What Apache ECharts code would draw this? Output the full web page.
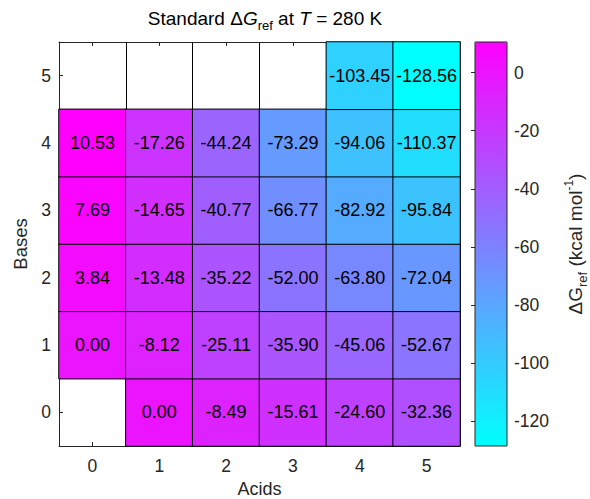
<!DOCTYPE html>
<html>
<head>
<meta charset="utf-8">
<script src="https://cdn.jsdelivr.net/npm/echarts@6/dist/echarts.min.js"></script>
<style>
html,body{margin:0;padding:0;background:#fff;}
#chart{width:590px;height:499px;}
</style>
</head>
<body>
<div id="chart"></div>
<script>
var acids = ['0','1','2','3','4','5'];
var bases = ['0','1','2','3','4','5'];
// values[baseIndex][acidIndex]; null = no cell
var base0 = [null, 0.00, -8.49, -15.61, -24.60, -32.36];
var base1 = [0.00, -8.12, -25.11, -35.90, -45.06, -52.67];
var base2 = [3.84, -13.48, -35.22, -52.00, -63.80, -72.04];
var base3 = [7.69, -14.65, -40.77, -66.77, -82.92, -95.84];
var base4 = [10.53, -17.26, -44.24, -73.29, -94.06, -110.37];
var base5 = [null, null, null, null, -103.45, -128.56];
var colorbarTicks = [0, -20, -40, -60, -80, -100, -120];
var cMin = -128.56, cMax = 10.53;

var rows = [base0, base1, base2, base3, base4, base5];
var data = [];
rows.forEach(function (row, b) {
  row.forEach(function (v, a) {
    if (v !== null) data.push([a, b, v]);
  });
});

var FONT = "'Liberation Sans', Arial, Helvetica, sans-serif";
var INK = '#262626';
var chart = echarts.init(document.getElementById('chart'), null, {renderer: 'svg'});

var axisCommon = {
  axisLine: {show: true, lineStyle: {color: INK, width: 1}},
  axisTick: {show: true, inside: true, length: 4, alignWithLabel: true, lineStyle: {color: INK}},
  splitLine: {show: true, lineStyle: {color: '#000', width: 1}}
};

chart.setOption({
  animation: false,
  textStyle: {fontFamily: FONT},
  title: {
    text: '{a|Standard Δ}{i|G}{s|ref}{a| at }{i|T}{a| = 280 K}',
    left: 260,
    top: 0,
    textAlign: 'center',
    textStyle: {
      fontWeight: 'normal',
      rich: {
        a: {fontSize: 19, fontFamily: FONT, fontWeight: 'normal', color: '#000', lineHeight: 26},
        i: {fontSize: 19, fontFamily: FONT, fontWeight: 'normal', fontStyle: 'italic', color: '#000', lineHeight: 26},
        s: {fontSize: 13, fontFamily: FONT, fontWeight: 'normal', color: '#000', lineHeight: 14, padding: [14, 0, 0, 0]}
      }
    }
  },
  grid: [
    {left: 59, top: 42, width: 401, height: 404, containLabel: false, outerBoundsMode: 'none'},
    {left: 475, top: 42, width: 32, height: 404, containLabel: false, outerBoundsMode: 'none', show: true, z: 10,
     backgroundColor: 'transparent', borderColor: INK, borderWidth: 1}
  ],
  xAxis: [
    Object.assign({}, axisCommon, {
      type: 'category', data: acids, gridIndex: 0, position: 'bottom',
      axisLabel: {fontSize: 17.5, color: INK, margin: 11, fontFamily: FONT},
      name: 'Acids', nameLocation: 'middle', nameGap: 33,
      nameTextStyle: {fontSize: 18, color: INK, fontFamily: FONT}
    }),
    Object.assign({}, axisCommon, {
      type: 'category', data: acids, gridIndex: 0, position: 'top',
      axisLabel: {show: false}
    }),
    {type: 'value', gridIndex: 1, show: false, min: 0, max: 1}
  ],
  yAxis: [
    Object.assign({}, axisCommon, {
      type: 'category', data: bases, gridIndex: 0, position: 'left',
      axisLabel: {fontSize: 17.5, color: INK, margin: 8, fontFamily: FONT},
      name: 'Bases', nameLocation: 'middle', nameGap: 22, nameRotate: 90,
      nameTextStyle: {fontSize: 18.5, color: INK, fontFamily: FONT}
    }),
    Object.assign({}, axisCommon, {
      type: 'category', data: bases, gridIndex: 0, position: 'right',
      axisLabel: {show: false}
    }),
    {
      type: 'value', gridIndex: 1, position: 'right', min: cMin, max: cMax, z: 10,
      axisLine: {show: false},
      splitLine: {show: false},
      axisTick: {show: true, inside: true, length: 4, lineStyle: {color: INK}, customValues: colorbarTicks},
      axisLabel: {fontSize: 17.5, color: INK, margin: 7, fontFamily: FONT, customValues: colorbarTicks},
      name: '{a|Δ}{a|G}{s|ref}{a| (kcal mol}{p|-1}{a|)}',
      nameLocation: 'middle', nameRotate: 90, nameGap: 55,
      nameTextStyle: {
        rich: {
          a: {fontSize: 19, fontFamily: FONT, color: INK, lineHeight: 26},
          s: {fontSize: 13, fontFamily: FONT, color: INK, lineHeight: 14, padding: [14, 0, 0, 0]},
          p: {fontSize: 12, fontFamily: FONT, color: INK, lineHeight: 14, padding: [0, 0, 12, 0]}
        }
      }
    }
  ],
  visualMap: {
    type: 'continuous',
    min: cMin, max: cMax,
    calculable: false,
    seriesIndex: 0,
    orient: 'vertical',
    left: 475, top: 42,
    itemWidth: 32, itemHeight: 404,
    padding: 0,
    showLabel: false,
    hoverLink: false,
    inRange: {color: ['#00ffff', '#ff00ff']}
  },
  series: [{
    type: 'heatmap',
    xAxisIndex: 0, yAxisIndex: 0,
    data: data,
    itemStyle: {borderColor: '#000', borderWidth: 1},
    label: {
      show: true, color: '#000', fontSize: 18, fontFamily: FONT,
      formatter: function (p) { return p.value[2].toFixed(2); }
    },
    emphasis: {disabled: true}
  }]
});
</script>
</body>
</html>
